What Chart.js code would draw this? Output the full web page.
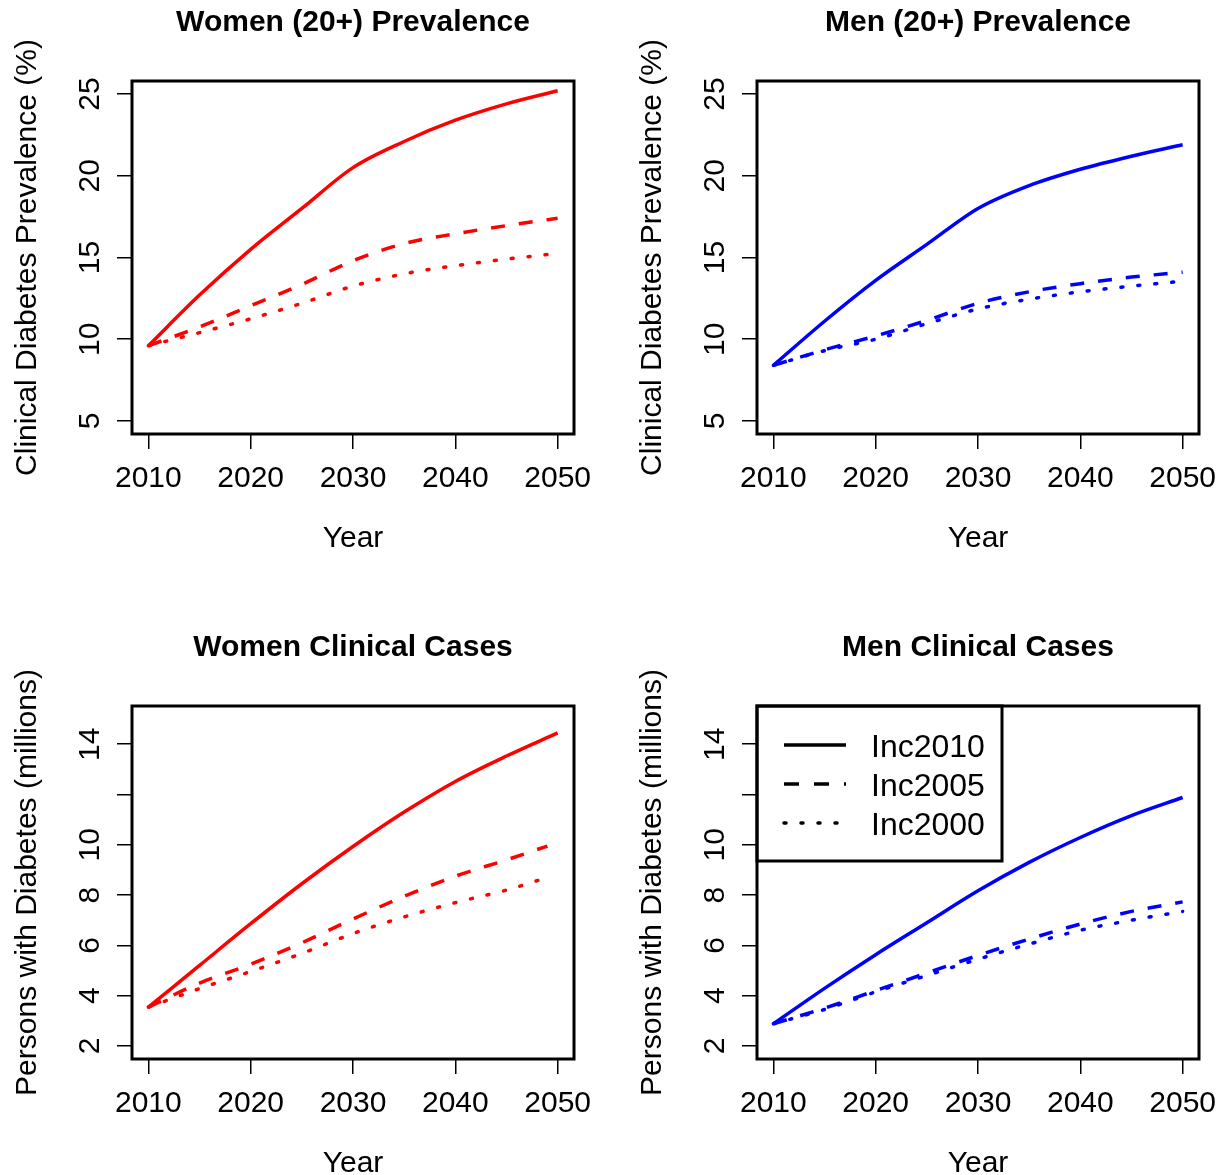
<!DOCTYPE html>
<html><head><meta charset="utf-8">
<script src="https://cdn.jsdelivr.net/npm/chart.js@4.4.1/dist/chart.umd.min.js"></script>
<style>
html,body{margin:0;padding:0;background:#fff;overflow:hidden;width:1222px;height:1175px;position:relative;}
.p{position:absolute;width:706px;height:625px;}
canvas{display:block;}
</style></head><body>
<div class="p" style="left:0;top:0"><canvas id="c1" width="706" height="625"></canvas></div>
<div class="p" style="left:625px;top:0"><canvas id="c2" width="706" height="625"></canvas></div>
<div class="p" style="left:0;top:625px"><canvas id="c3" width="706" height="625"></canvas></div>
<div class="p" style="left:625px;top:625px"><canvas id="c4" width="706" height="625"></canvas></div>
<script>
// ---------- data ----------
const years = [2010, 2015, 2020, 2025, 2030, 2035, 2040, 2045, 2050];
const yearsTo2049 = [2010, 2015, 2020, 2025, 2030, 2035, 2040, 2045, 2049];
const xTicks = [2010, 2020, 2030, 2040, 2050];
const prevTicks = [5, 10, 15, 20, 25];
const prevTickLabels = ['5', '10', '15', '20', '25'];
const casesTicks = [2, 4, 6, 8, 10, 12, 14];
const casesTickLabels = ['2', '4', '6', '8', '10', '', '14'];
const seriesNames = ['Inc2010', 'Inc2005', 'Inc2000'];
const panelTitles = ['Women (20+) Prevalence', 'Men (20+) Prevalence', 'Women Clinical Cases', 'Men Clinical Cases'];
const prevAxisTitle = 'Clinical Diabetes Prevalence (%)';
const casesAxisTitle = 'Persons with Diabetes (millions)';
const xAxisTitle = 'Year';

const womenPrevInc2010 = [9.6, 12.7, 15.5, 18.0, 20.5, 22.1, 23.4, 24.4, 25.2];
const womenPrevInc2005 = [9.6, 10.75, 12.05, 13.35, 14.8, 15.85, 16.45, 16.95, 17.4];
const womenPrevInc2000 = [9.6, 10.4, 11.25, 12.2, 13.25, 14.0, 14.5, 14.9, 15.25];

const menPrevInc2010 = [8.4, 11.1, 13.6, 15.8, 18.0, 19.4, 20.4, 21.2, 21.9];
const menPrevInc2005 = [8.4, 9.35, 10.2, 11.15, 12.2, 12.9, 13.4, 13.8, 14.1];
const menPrevInc2000 = [8.4, 9.3, 10.0, 10.95, 11.85, 12.45, 12.9, 13.25, 13.55];

const womenCasesInc2010 = [3.54, 5.2, 6.86, 8.45, 9.93, 11.3, 12.52, 13.53, 14.45];
const womenCasesInc2005 = [3.54, 4.5, 5.25, 6.1, 7.05, 7.95, 8.75, 9.4, 9.95];
const womenCasesInc2000 = [3.54, 4.28, 4.96, 5.68, 6.47, 7.13, 7.7, 8.2, 8.7];

const menCasesInc2010 = [2.88, 4.29, 5.63, 6.9, 8.17, 9.3, 10.29, 11.16, 11.88];
const menCasesInc2005 = [2.88, 3.5, 4.2, 4.9, 5.6, 6.25, 6.85, 7.35, 7.73];
const menCasesInc2000 = [2.88, 3.45, 4.15, 4.8, 5.45, 6.05, 6.6, 7.0, 7.35];

// ---------- styling ----------
const FONT = '"Liberation Sans", Arial, Helvetica, sans-serif';
const FS = 30;
const LEG_FS = 32;
Chart.defaults.font.family = FONT;
Chart.defaults.color = '#000';
const RED = '#FF0000', BLUE = '#0000FF';
const LW = 3.5;
const styles = [
  {dash: [], cap: 'butt'},
  {dash: [14, 14], cap: 'butt'},
  {dash: [2, 15], cap: 'round'}
];
const legendStyles = [
  {dash: [], cap: 'butt'},
  {dash: [15, 15], cap: 'butt'},
  {dash: [2, 15], cap: 'round'}
];

const frame = {
  id: 'frame',
  afterDatasetsDraw(chart, args, opts) {
    const {ctx, chartArea: a} = chart;
    ctx.save();
    ctx.strokeStyle = '#000';
    ctx.lineWidth = 3;
    ctx.strokeRect(a.left, a.top, a.right - a.left, a.bottom - a.top);
    ctx.fillStyle = '#000';
    // panel title
    ctx.font = 'bold ' + FS + 'px ' + FONT;
    ctx.textAlign = 'center';
    ctx.textBaseline = 'middle';
    ctx.fillText(opts.title, (a.left + a.right) / 2, 23);
    // rotated y tick labels (parallel to axis)
    const ys = chart.scales.y;
    ctx.font = FS + 'px ' + FONT;
    ctx.textAlign = 'center';
    ctx.textBaseline = 'alphabetic';
    opts.yTicks.forEach((v, i) => {
      const lab = opts.yLabels[i];
      if (!lab) return;
      const py = ys.getPixelForValue(v);
      ctx.save();
      ctx.translate(a.left - 33, py);
      ctx.rotate(-Math.PI / 2);
      ctx.fillText(lab, 0, 0);
      ctx.restore();
    });
    if (opts.legend) {
      const L = a.left, T = a.top, R = a.left + 245, B = a.top + 155;
      ctx.lineWidth = 3;
      ctx.strokeRect(L, T, R - L, B - T);
      ctx.font = LEG_FS + 'px ' + FONT;
      seriesNames.forEach((name, i) => {
        const yy = T + 39 + i * 39;
        ctx.save();
        ctx.strokeStyle = '#000';
        ctx.lineWidth = LW;
        ctx.setLineDash(legendStyles[i].dash);
        ctx.lineCap = legendStyles[i].cap;
        ctx.beginPath();
        ctx.moveTo(L + 27, yy);
        ctx.lineTo(L + 89, yy);
        ctx.stroke();
        ctx.restore();
        ctx.textAlign = 'left';
        ctx.fillText(name, L + 114, yy + 12);
      });
    }
    ctx.restore();
  }
};

function makePanel(id, title, yTitle, yMin, yMax, yTicks, yLabels, color, series, legend) {
  const datasets = series.map((s, i) => ({
    label: seriesNames[i],
    data: s.xs.map((x, k) => ({x: x, y: s.ys[k]})),
    borderColor: color,
    borderWidth: LW,
    borderDash: styles[i].dash,
    borderCapStyle: styles[i].cap,
    borderJoinStyle: 'round',
    pointRadius: 0,
    fill: false,
    cubicInterpolationMode: 'monotone'
  }));
  const gridOpts = {drawOnChartArea: false, drawTicks: true, tickLength: 15, tickWidth: 1.5, tickColor: '#000', color: '#000', lineWidth: 1.5};
  new Chart(document.getElementById(id), {
    type: 'line',
    data: {datasets},
    options: {
      responsive: false,
      animation: false,
      devicePixelRatio: 1,
      layout: {padding: {left: 0, right: 132, top: 81, bottom: 68}},
      plugins: {
        legend: {display: false},
        tooltip: {enabled: false},
        title: {display: false},
        frame: {title, yTicks, yLabels, legend}
      },
      scales: {
        x: {
          type: 'linear', min: 2008.4, max: 2051.6,
          afterBuildTicks: s => { s.ticks = xTicks.map(v => ({value: v})); },
          afterFit: s => { s.height = 123; },
          ticks: {color: '#000', font: {family: FONT, size: FS}, padding: 12, maxRotation: 0, autoSkip: false, callback: v => String(v)},
          grid: gridOpts,
          border: {display: false},
          title: {display: true, text: xAxisTitle, color: '#000', font: {family: FONT, size: FS}, padding: 0}
        },
        y: {
          type: 'linear', min: yMin, max: yMax,
          afterBuildTicks: s => { s.ticks = yTicks.map(v => ({value: v})); },
          afterFit: s => { s.width = 132; },
          ticks: {display: false},
          grid: gridOpts,
          border: {display: false},
          title: {display: true, text: yTitle, color: '#000', font: {family: FONT, size: FS}, padding: {top: 9.5, bottom: 0}}
        }
      }
    },
    plugins: [frame]
  });
}

makePanel('c1', panelTitles[0], prevAxisTitle, 4.2, 25.8, prevTicks, prevTickLabels, RED, [
  {xs: years, ys: womenPrevInc2010}, {xs: years, ys: womenPrevInc2005}, {xs: years, ys: womenPrevInc2000}], false);
makePanel('c2', panelTitles[1], prevAxisTitle, 4.2, 25.8, prevTicks, prevTickLabels, BLUE, [
  {xs: years, ys: menPrevInc2010}, {xs: years, ys: menPrevInc2005}, {xs: years, ys: menPrevInc2000}], false);
makePanel('c3', panelTitles[2], casesAxisTitle, 1.48, 15.52, casesTicks, casesTickLabels, RED, [
  {xs: years, ys: womenCasesInc2010}, {xs: yearsTo2049, ys: womenCasesInc2005}, {xs: yearsTo2049, ys: womenCasesInc2000}], false);
makePanel('c4', panelTitles[3], casesAxisTitle, 1.48, 15.52, casesTicks, casesTickLabels, BLUE, [
  {xs: years, ys: menCasesInc2010}, {xs: years, ys: menCasesInc2005}, {xs: years, ys: menCasesInc2000}], true);
</script>
</body></html>
